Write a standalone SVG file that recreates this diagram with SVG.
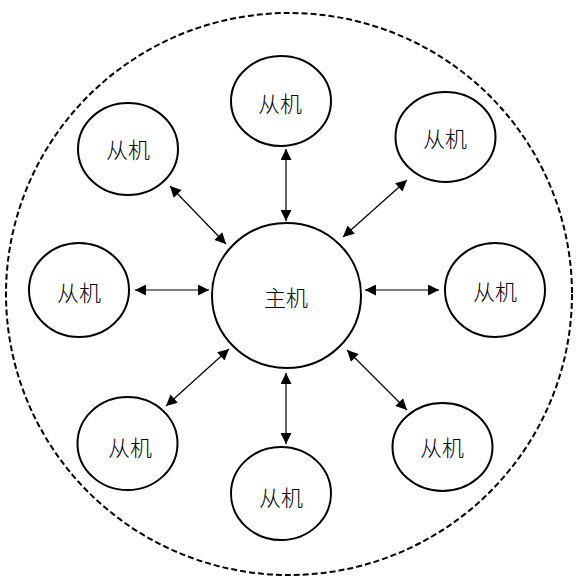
<svg xmlns="http://www.w3.org/2000/svg" width="577" height="585" viewBox="0 0 577 585">
<style>
.node{fill:#fff;stroke:#000;stroke-width:2}
.lbl{font-family:"Noto Sans CJK SC","Noto Sans",sans-serif;font-size:22px;font-weight:300;fill:#000;text-anchor:middle;dominant-baseline:central}
.conn{stroke:#000;stroke-width:1.2;fill:none;marker-start:url(#ah);marker-end:url(#ah)}
</style>
<defs>
<marker id="ah" viewBox="0 0 10 10" refX="10" refY="5" markerWidth="13" markerHeight="11" markerUnits="userSpaceOnUse" orient="auto-start-reverse">
<path d="M0,0 L10,5 L0,10 z" fill="#000"/>
</marker>
</defs>
<rect width="577" height="585" fill="#fff"/>
<ellipse id="boundary" cx="289" cy="294" rx="283" ry="281" fill="none" stroke="#000" stroke-width="2" stroke-dasharray="6,3"/>
<g id="connectors">
<line class="conn" x1="286" y1="149" x2="286" y2="221"/>
<line class="conn" x1="286" y1="373" x2="286" y2="444"/>
<line class="conn" x1="135" y1="290" x2="209" y2="290"/>
<line class="conn" x1="365" y1="290" x2="439" y2="290"/>
<line class="conn" x1="170" y1="186" x2="226" y2="244"/>
<line class="conn" x1="407" y1="180" x2="343" y2="237"/>
<line class="conn" x1="229" y1="349" x2="166" y2="406"/>
<line class="conn" x1="347" y1="350" x2="407" y2="410"/>
</g>
<g id="master"><ellipse class="node" cx="286.5" cy="295.5" rx="74.5" ry="72.5"/><text class="lbl" x="286" y="296">主机</text></g>
<g id="slave-top"><ellipse class="node" cx="281" cy="101" rx="50" ry="45"/><text class="lbl" x="280" y="102">从机</text></g>
<g id="slave-upper-left"><ellipse class="node" cx="128" cy="149" rx="50" ry="46"/><text class="lbl" x="128" y="148">从机</text></g>
<g id="slave-upper-right"><ellipse class="node" cx="445.5" cy="137" rx="50" ry="45"/><text class="lbl" x="445" y="137">从机</text></g>
<g id="slave-left"><ellipse class="node" cx="79" cy="290" rx="50" ry="47"/><text class="lbl" x="79" y="291">从机</text></g>
<g id="slave-right"><ellipse class="node" cx="495" cy="290" rx="50" ry="47"/><text class="lbl" x="495" y="290">从机</text></g>
<g id="slave-lower-left"><ellipse class="node" cx="127.5" cy="443.5" rx="50" ry="46.5"/><text class="lbl" x="130" y="446">从机</text></g>
<g id="slave-bottom"><ellipse class="node" cx="281" cy="493.5" rx="50" ry="46.5"/><text class="lbl" x="281" y="496">从机</text></g>
<g id="slave-lower-right"><ellipse class="node" cx="442.5" cy="447" rx="50" ry="44"/><text class="lbl" x="442" y="446">从机</text></g>
</svg>
